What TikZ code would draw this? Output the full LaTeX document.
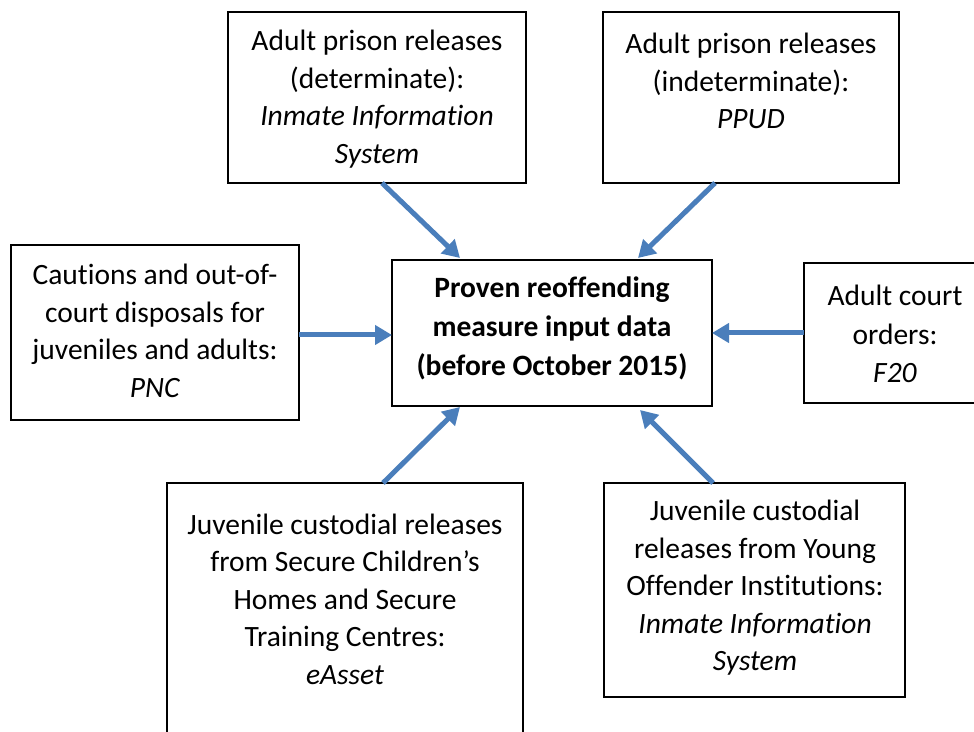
\documentclass[tikz,border=0pt]{standalone}
\usepackage{fontspec}
\setmainfont{Carlito}[Ligatures=NoCommon]
\usetikzlibrary{arrows.meta}
\definecolor{arrowblue}{RGB}{74,126,187}
\begin{document}
\begin{tikzpicture}[x=1pt,y=1pt,
  box/.style={draw=black,line width=1.3pt,inner sep=0pt,outer sep=0pt,fill=none},
  txt/.style={align=center,inner sep=0pt,font=\fontsize{29.5}{37.5}\selectfont},
  arr/.style={draw=arrowblue,line width=5pt,-{Triangle[length=17pt,width=19pt]}}]
\useasboundingbox (0,0) rectangle (974,731);
\clip (0,0) rectangle (974,731);
% boxes
\node[box,minimum width=298pt,minimum height=171pt] (tl) at (377,633.5) {};
\node[box,minimum width=296pt,minimum height=171pt] (tr) at (751,633.5) {};
\node[box,minimum width=288pt,minimum height=175pt] (l) at (155,398.5) {};
\node[box,minimum width=320pt,minimum height=146pt] (c) at (552,398) {};
\node[box,minimum width=171pt,minimum height=140pt] (r) at (889.5,398) {};
\node[box,minimum width=356pt,minimum height=262pt] (bl) at (345,117) {};
\node[box,minimum width=301pt,minimum height=214pt] (br) at (754.5,141) {};
% texts
\node[txt] (tlt) at (377,632) {Adult prison releases\\(determinate):\\\textit{Inmate Information}\\\textit{System}};
\node[txt] (trt) at (751,650) {Adult prison releases\\(indeterminate):\\\textit{PPUD}};
\node[txt] (lt) at (155,400) {Cautions and out-of-\\court disposals for\\juveniles and adults:\\\textit{PNC}};
\node[txt,font=\fontsize{29.5}{39}\selectfont\bfseries] (ct) at (552,403) {Proven reoffending\\measure input data\\(before October 2015)};
\node[txt,font=\fontsize{29.5}{38.5}\selectfont] (rt) at (895,397) {Adult court\\orders:\\\textit{F20}};
\node[txt] (blt) at (345,132) {Juvenile custodial releases\\from Secure Children’s\\Homes and Secure\\Training Centres:\\\textit{eAsset}};
\node[txt] (brt) at (755,143) {Juvenile custodial\\releases from Young\\Offender Institutions:\\\textit{Inmate Information}\\\textit{System}};
% connectors
\draw[arr] ([xshift=5pt]tl.south) -- ([xshift=-92pt,yshift=2pt]c.north);
\draw[arr] ([xshift=-36pt]tr.south) -- ([xshift=86pt,yshift=2pt]c.north);
\draw[arr] ([yshift=-2.5pt]l.east) -- ([yshift=-2pt]c.west);
\draw[arr] (r.west) -- (c.east);
\draw[arr] ([xshift=38pt]bl.north) -- ([xshift=-92pt,yshift=-1pt]c.south);
\draw[arr] ([xshift=-41.5pt]br.north) -- ([xshift=88pt,yshift=-4pt]c.south);
\end{tikzpicture}
\end{document}
